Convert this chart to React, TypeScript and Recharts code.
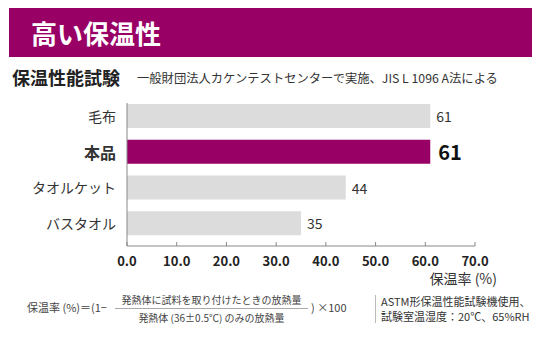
import { BarChart, Bar, XAxis, YAxis, Cell, LabelList } from "recharts";

const categories = ["毛布", "本品", "タオルケット", "バスタオル"];
const values = [61, 61, 44, 35];
const highlight = "本品";
const xTicks = [0, 10, 20, 30, 40, 50, 60, 70];

const data = categories.map((name, i) => ({ name, value: values[i] }));

const PURPLE = "#990066";
const GREY = "#dcdcdc";
const FONT = '"Noto Sans CJK JP", "Noto Sans", sans-serif';

function YTick({ x, y, payload }: any) {
  const hi = payload.value === highlight;
  return (
    <text
      x={x - 11}
      y={y}
      textAnchor="end"
      dominantBaseline="central"
      fontSize={hi ? 16 : 14}
      fontWeight={hi ? 700 : 400}
      fill="#333"
      fontFamily={FONT}
    >
      {payload.value}
    </text>
  );
}

function XTick({ x, y, payload }: any) {
  return (
    <g>
      <line x1={x} x2={x} y1={y} y2={y - 4} stroke="#888" />
      <text
        x={x}
        y={y + 14}
        textAnchor="middle"
        dominantBaseline="central"
        fontSize={13}
        fontWeight={700}
        fill="#222"
        fontFamily={FONT}
      >
        {payload.value.toFixed(1)}
      </text>
    </g>
  );
}

function ValueLabel({ x, y, width, height, value, index }: any) {
  const hi = categories[index] === highlight;
  return (
    <text
      x={x + width + (hi ? 8 : 6)}
      y={y + height / 2}
      dominantBaseline="central"
      fontSize={hi ? 20 : 14}
      fontWeight={hi ? 700 : 400}
      fill={hi ? "#111" : "#333"}
      fontFamily={FONT}
    >
      {value}
    </text>
  );
}

export default function App() {
  return (
    <div
      style={{
        position: "absolute",
        left: 0,
        top: 0,
        width: 540,
        height: 339,
        background: "#fff",
        fontFamily: FONT,
        color: "#333",
      }}
    >
      <div
        style={{
          position: "absolute",
          left: 9,
          top: 8,
          width: 523,
          height: 49,
          background: PURPLE,
          color: "#fff",
          fontSize: 26,
          fontWeight: 700,
          lineHeight: "49px",
          paddingLeft: 22,
          boxSizing: "border-box",
        }}
      >
        高い保温性
      </div>
      <div style={{ position: "absolute", left: 12, top: 66, fontSize: 18, fontWeight: 700, lineHeight: "22px", color: "#222" }}>
        保温性能試験
      </div>
      <div style={{ position: "absolute", left: 137, top: 70, fontSize: 12.3, lineHeight: "16px", color: "#333", whiteSpace: "nowrap" }}>
        一般財団法人カケンテストセンターで実施、JIS L 1096 A法による
      </div>

      <div style={{ position: "absolute", left: 0, top: 0 }}>
        <BarChart
          width={540}
          height={339}
          data={data}
          layout="vertical"
          margin={{ top: 103, right: 65, bottom: 63, left: 0 }}
        >
          <XAxis
            type="number"
            domain={[0, 70]}
            ticks={xTicks}
            height={30}
            tickSize={0}
            tickMargin={0}
            tickLine={false}
            axisLine={{ stroke: "#888" }}
            tick={<XTick />}
            interval={0}
          />
          <YAxis
            type="category"
            dataKey="name"
            width={127}
            tickSize={0}
            tickMargin={0}
            tickLine={false}
            axisLine={{ stroke: "#888" }}
            tick={<YTick />}
            padding={{ top: -5, bottom: 5 }}
            interval={0}
          />
          <Bar dataKey="value" barSize={24} isAnimationActive={false}>
            {data.map((d) => (
              <Cell key={d.name} fill={d.name === highlight ? PURPLE : GREY} />
            ))}
            <LabelList dataKey="value" content={<ValueLabel />} />
          </Bar>
        </BarChart>
      </div>

      <div style={{ position: "absolute", right: 43, top: 268, fontSize: 14, lineHeight: "20px", color: "#333" }}>
        保温率 (%)
      </div>

      <div style={{ position: "absolute", left: 27, top: 300, fontSize: 11, lineHeight: "14px", color: "#444", whiteSpace: "nowrap" }}>
        保温率 (%)＝(1−
      </div>
      <div
        style={{
          position: "absolute",
          left: 115,
          top: 293,
          width: 193,
          textAlign: "center",
          fontSize: 10,
          lineHeight: "14px",
          color: "#444",
          whiteSpace: "nowrap",
        }}
      >
        <div style={{ borderBottom: "1px solid #aaa", paddingBottom: 1 }}>発熱体に試料を取り付けたときの放熱量</div>
        <div style={{ paddingTop: 2 }}>発熱体 (36±0.5℃) のみの放熱量</div>
      </div>
      <div style={{ position: "absolute", left: 311, top: 300, fontSize: 11, lineHeight: "14px", color: "#444", whiteSpace: "nowrap" }}>
        ) ×100
      </div>

      <div
        style={{
          position: "absolute",
          left: 375,
          top: 295,
          height: 28,
          borderLeft: "1px solid #bbb",
          paddingLeft: 5,
          fontSize: 11,
          lineHeight: "15px",
          color: "#333",
          whiteSpace: "nowrap",
        }}
      >
        <div style={{ marginTop: -1 }}>ASTM形保温性能試験機使用、</div>
        <div>試験室温湿度：20℃、65%RH</div>
      </div>
    </div>
  );
}
